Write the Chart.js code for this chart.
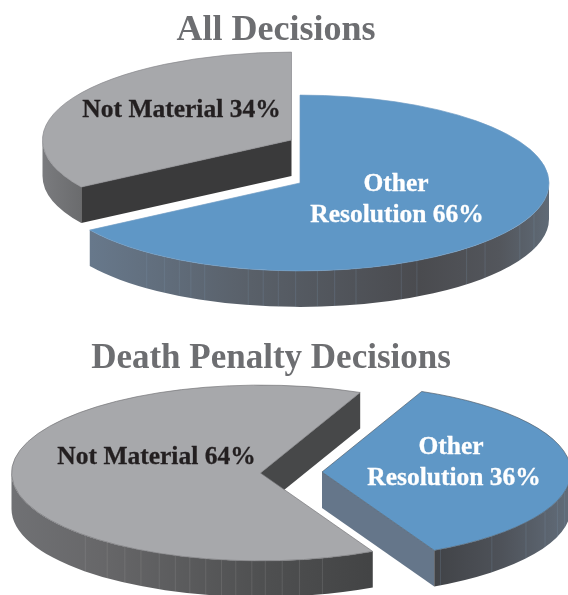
<!DOCTYPE html>
<html>
<head>
<meta charset="utf-8">
<style>
html,body{margin:0;padding:0;background:#fff;width:568px;height:595px;overflow:hidden}
#page{position:relative;width:568px;height:595px;overflow:hidden}
canvas{position:absolute}
</style>
<script src="https://cdn.jsdelivr.net/npm/chart.js@4"></script>
</head>
<body>
<div id="page">
<canvas id="c1" width="600" height="320" style="left:-24px;top:0"></canvas>
<canvas id="c2" width="600" height="275" style="left:-29px;top:320px"></canvas>
</div>
<script>
const sliceNames = ["Other Resolution", "Not Material"];
const allValues = [66, 34];
const deathValues = [36, 64];
const allLabelLines = [["Other", "Resolution 66%"], ["Not Material 34%"]];
const deathLabelLines = [["Other", "Resolution 36%"], ["Not Material 64%"]];
const allTitle = "All Decisions";
const deathTitle = "Death Penalty Decisions";

const FONT = '"Liberation Serif"';
const SQUASH = 0.353;
const DEPTH = 36;
const BLUE = "#5f97c6", GRAY = "#a7a8ab";

const allStyle = {
  left: -24, top: 0, rotation: 0, radius: 249,
  titleSize: 36,
  borders: ["#6f9cc4", "#85868a"],
  centers: [[300, 183], [291.5, 140]],
  cutColors: ["#65768a", "#3a3a3b"],
  walls: [
    [[0, "#67788b"], [0.08, "#67788b"], [0.4, "#596069"], [0.74, "#4a4b4f"], [0.9, "#53565c"], [1, "#5f6a76"]],
    [[0, "#7a7b7e"], [0.09, "#68696b"], [1, "#444444"]]
  ],
  seamColors: ["rgba(125,150,175,0.3)", "rgba(170,170,170,0.25)"],
  seams: [[128, 123, 119, 116, 112.5, 102, 98.5, 95, 91, 86, 82, 77, 66, 62, 48, 42, 28, 20], []],
  texts: [[[396, 191], [397, 222]], [[181.5, 117]]],
  textColors: ["#ffffff", "#231f20"]
};
const deathStyle = {
  left: -29, top: 320, rotation: 23.6, radius: 249,
  titleSize: 35,
  borders: ["#4f5c69", "#737476"],
  centers: [[322, 472], [260.5, 473]],
  cutColors: ["#65768a", "#474849"],
  walls: [
    [[0, "#414347"], [0.725, "#414347"], [0.86, "#4e5259"], [1, "#626d7a"]],
    [[0, "#707174"], [0.18, "#676769"], [0.5, "#4f5051"], [0.72, "#434445"], [1, "#333333"]]
  ],
  seamColors: ["rgba(125,150,175,0.3)", "rgba(170,170,170,0.25)"],
  seams: [[61.6, 47, 35, 26.4, 19, 13], [134.7, 128, 123, 118.7, 114, 110, 106.5, 102.7, 99, 95.7, 92, 88.9, 85, 81, 75.6]],
  texts: [[[451, 454], [454, 485]], [[156.5, 464]]],
  textColors: ["#ffffff", "#231f20"]
};

function wallPath(ctx, cx, cy, r, a0, a1) {
  ctx.beginPath();
  ctx.ellipse(cx, cy, r, r * SQUASH, 0, a0, a1, false);
  ctx.ellipse(cx, cy + DEPTH, r, r * SQUASH, 0, a1, a0, true);
  ctx.closePath();
}
function cutFace(ctx, cx, cy, r, ang, color) {
  const ex = cx + r * Math.cos(ang), ey = cy + r * SQUASH * Math.sin(ang);
  ctx.beginPath();
  ctx.moveTo(cx, cy);
  ctx.lineTo(ex, ey);
  ctx.lineTo(ex, ey + DEPTH);
  ctx.lineTo(cx, cy + DEPTH);
  ctx.closePath();
  ctx.fillStyle = color;
  ctx.fill();
}

const pie3d = {
  id: "pie3d",
  beforeDatasetsDraw(chart, args, st) {
    const ctx = chart.ctx;
    const arcs = chart.getDatasetMeta(0).data;
    [1, 0].forEach(i => {
      const arc = arcs[i];
      const r = arc.outerRadius;
      const cx = st.centers[i][0] - st.left, cy = st.centers[i][1] - st.top;
      const a = arc.startAngle, b = arc.endAngle;
      ctx.save();
      if (-Math.cos(a) > 0) cutFace(ctx, cx, cy, r, a, st.cutColors[i]);
      if (Math.cos(b) > 0) cutFace(ctx, cx, cy, r, b, st.cutColors[i]);
      const grad = ctx.createLinearGradient(cx - r, 0, cx + r, 0);
      st.walls[i].forEach(s => grad.addColorStop(s[0], s[1]));
      for (let k = -1; k <= 1; k++) {
        const lo = Math.max(a, 2 * Math.PI * k), hi = Math.min(b, Math.PI + 2 * Math.PI * k);
        if (hi > lo) {
          wallPath(ctx, cx, cy, r, lo, hi);
          ctx.fillStyle = grad;
          ctx.fill();
        }
      }
      ctx.strokeStyle = st.seamColors[i];
      ctx.lineWidth = 0.8;
      st.seams[i].forEach(d => {
        const t = d * Math.PI / 180;
        const x = cx + r * Math.cos(t), y = cy + r * SQUASH * Math.sin(t);
        ctx.beginPath();
        ctx.moveTo(x, y);
        ctx.lineTo(x, y + DEPTH);
        ctx.stroke();
      });
      ctx.translate(cx, cy);
      ctx.scale(1, SQUASH);
      ctx.translate(-arc.x, -arc.y);
      arc.draw(ctx);
      ctx.restore();
    });
    return false;
  },
  afterDraw(chart, args, st) {
    const ctx = chart.ctx;
    ctx.save();
    ctx.font = "bold 25.5px " + FONT;
    ctx.textAlign = "center";
    ctx.textBaseline = "alphabetic";
    ctx.lineWidth = 0.3;
    st.lines.forEach((lines, i) => {
      ctx.fillStyle = st.textColors[i];
      ctx.strokeStyle = st.textColors[i];
      lines.forEach((t, j) => {
        const p = st.texts[i][j];
        ctx.fillText(t, p[0] - st.left, p[1] - st.top);
        ctx.strokeText(t, p[0] - st.left, p[1] - st.top);
      });
    });
    ctx.restore();
  }
};

function makeChart(id, values, title, lines, style, titlePad) {
  new Chart(document.getElementById(id), {
    type: "pie",
    data: {
      labels: sliceNames,
      datasets: [{
        data: values,
        backgroundColor: [BLUE, GRAY],
        borderColor: style.borders,
        borderWidth: 1
      }]
    },
    options: {
      responsive: false,
      animation: false,
      radius: style.radius,
      rotation: style.rotation,
      layout: { padding: 0 },
      plugins: {
        legend: { display: false },
        tooltip: { enabled: false },
        title: {
          display: true,
          text: title,
          color: "#6d6e71",
          font: { family: FONT, size: style.titleSize, weight: "bold" },
          padding: titlePad
        },
        pie3d: Object.assign({ lines: lines }, style)
      }
    },
    plugins: [pie3d]
  });
}
makeChart("c1", allValues, allTitle, allLabelLines, allStyle, { top: 9, bottom: 0 });
makeChart("c2", deathValues, deathTitle, deathLabelLines, deathStyle, { top: 18, bottom: 0 });
</script>
</body>
</html>
